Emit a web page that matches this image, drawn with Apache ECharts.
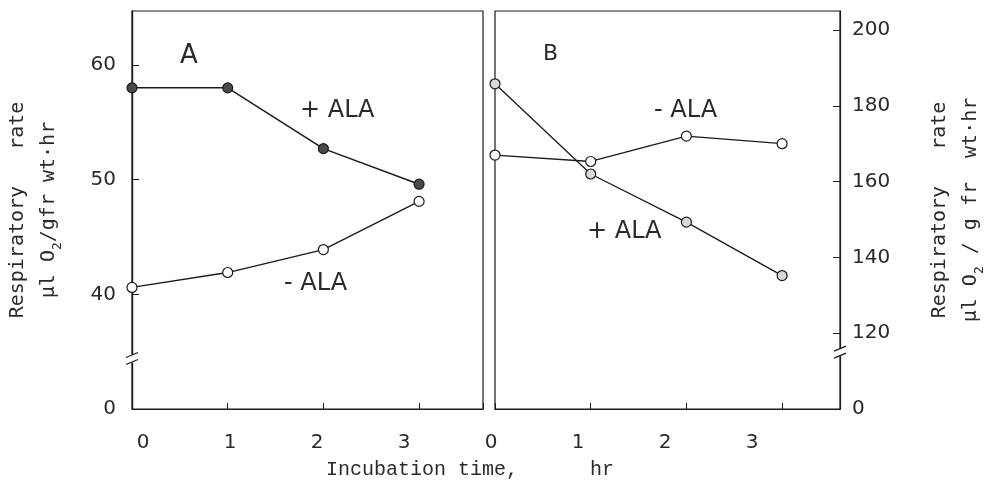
<!DOCTYPE html>
<html>
<head>
<meta charset="utf-8">
<script src="https://cdn.jsdelivr.net/npm/echarts@6/dist/echarts.min.js"></script>
<style>
html,body{margin:0;padding:0;background:#fff;}
#chart{width:989px;height:502px;}
</style>
</head>
<body>
<div id="chart"></div>
<script>
// ---- data ----
const hours = [0, 1, 2, 3];
const xTickLabels = ['0', '1', '2', '3'];
// Panel A (left axis, µl O2/g fr wt·hr)
const aPlusALA = [58, 58, 52.7, 49.6];
const aMinusALA = [40.6, 41.9, 43.9, 48.1];
// Panel B (right axis)
const bPlusALA = [185.8, 162, 149.3, 135.2];
const bMinusALA = [167, 165.3, 172, 170];
// axis tick values (bottom value shown as "0" after the axis break)
const leftTicks = [30, 40, 50, 60];
const rightTicks = [100, 120, 140, 160, 180, 200];

const ink = '#1a1a1a';
const txt = '#2a2a2a';
const monoFont = 'DejaVu Sans Mono';
const sansFont = 'DejaVu Sans';

function pairs(xs, ys) { return xs.map((x, i) => [x, ys[i]]); }

const chart = echarts.init(document.getElementById('chart'), null, {renderer: 'canvas'});

const gridA = {left: 132, top: 11, width: 351, height: 398, show: true, borderColor: ink, borderWidth: 1.2, backgroundColor: 'transparent', outerBoundsMode: 'none', containLabel: false};
const gridB = {left: 495, top: 11, width: 345, height: 398, show: true, borderColor: ink, borderWidth: 1.2, backgroundColor: 'transparent', outerBoundsMode: 'none', containLabel: false};
const gridL = {left: 143, top: 11, width: 609, height: 398, show: false, outerBoundsMode: 'none', containLabel: false};

const xCommon = {
  type: 'value', min: 0, interval: 1,
  axisLine: {show: true, onZero: false, lineStyle: {color: ink, width: 1.2}},
  axisTick: {show: true, inside: true, length: 6, lineStyle: {color: ink, width: 1}},
  axisLabel: {show: false},
  splitLine: {show: false}
};

const nameRich = {
  a: {fontFamily: monoFont, fontSize: 20, color: txt, lineHeight: 31},
  s: {fontFamily: monoFont, fontSize: 13, color: txt, lineHeight: 20, verticalAlign: 'bottom'}
};

const option = {
  animation: false,
  backgroundColor: '#fff',
  grid: [gridA, gridB, gridL],
  xAxis: [
    Object.assign({}, xCommon, {gridIndex: 0, max: 3.668}),
    Object.assign({}, xCommon, {gridIndex: 1, max: 3.605}),
    {
      type: 'value', gridIndex: 2, min: 0, max: 7, interval: 1,
      axisLine: {show: false, onZero: false}, axisTick: {show: false}, splitLine: {show: false},
      axisLabel: {
        show: true, margin: 24, fontFamily: sansFont, fontSize: 20, color: txt,
        formatter: v => xTickLabels[Math.round(v) % 4]
      }
    }
  ],
  yAxis: [
    {
      type: 'value', gridIndex: 0, position: 'left', min: leftTicks[0], max: 64.7, interval: 10,
      axisLine: {show: true, onZero: false, lineStyle: {color: ink, width: 1.4}},
      axisTick: {show: true, inside: true, length: 7, lineStyle: {color: ink, width: 1}},
      axisLabel: {
        show: true, margin: 16, fontFamily: sansFont, fontSize: 20, color: txt, showMaxLabel: false,
        formatter: v => (v === leftTicks[0] ? '0' : (leftTicks.indexOf(v) >= 0 ? String(v) : ''))
      },
      splitLine: {show: false},
      name: '{a|Respiratory   rate}\n{a|μl O}{s|2}{a|/gfr wt·hr}',
      nameLocation: 'middle', nameRotate: 90, nameGap: 68,
      nameTextStyle: {rich: nameRich, align: 'center'}
    },
    {
      type: 'value', gridIndex: 1, position: 'right', min: rightTicks[0], max: 205, interval: 20,
      axisLine: {show: true, onZero: false, lineStyle: {color: ink, width: 1.2}},
      axisTick: {show: true, inside: true, length: 7, lineStyle: {color: ink, width: 1}},
      axisLabel: {
        show: true, margin: 12, fontFamily: sansFont, fontSize: 20, color: txt, showMaxLabel: false,
        formatter: v => (v === rightTicks[0] ? '0' : (rightTicks.indexOf(v) >= 0 ? String(v) : ''))
      },
      splitLine: {show: false},
      name: '{a|Respiratory   rate}\n{a|μl O}{s|2}{a| / g fr  wt·hr}',
      nameLocation: 'middle', nameRotate: 90, nameGap: 84,
      nameTextStyle: {rich: nameRich, align: 'center'}
    },
    {type: 'value', gridIndex: 2, show: false, min: 0, max: 1}
  ],
  series: [
    {
      name: '+ALA (A)', type: 'line', xAxisIndex: 0, yAxisIndex: 0,
      data: pairs(hours, aPlusALA),
      symbol: 'circle', symbolSize: 10,
      lineStyle: {color: ink, width: 1.5},
      itemStyle: {color: '#4a4a4a', borderColor: ink, borderWidth: 1.2}
    },
    {
      name: '-ALA (A)', type: 'line', xAxisIndex: 0, yAxisIndex: 0,
      data: pairs(hours, aMinusALA),
      symbol: 'circle', symbolSize: 10,
      lineStyle: {color: ink, width: 1.3},
      itemStyle: {color: '#fff', borderColor: ink, borderWidth: 1.2}
    },
    {
      name: '+ALA (B)', type: 'line', xAxisIndex: 1, yAxisIndex: 1,
      data: pairs(hours, bPlusALA),
      symbol: 'circle', symbolSize: 10,
      lineStyle: {color: ink, width: 1.3},
      itemStyle: {color: '#d8d8d8', borderColor: ink, borderWidth: 1.2}
    },
    {
      name: '-ALA (B)', type: 'line', xAxisIndex: 1, yAxisIndex: 1,
      data: pairs(hours, bMinusALA),
      symbol: 'circle', symbolSize: 10,
      lineStyle: {color: ink, width: 1.3},
      itemStyle: {color: '#fff', borderColor: ink, borderWidth: 1.2}
    }
  ]
};

chart.setOption(option);

// ---- annotations and axis-break marks ----
function breakMark(axisIdx, xAxisIdx, xVal, yVal) {
  const px = chart.convertToPixel({xAxisIndex: xAxisIdx, yAxisIndex: axisIdx}, [xVal, yVal]);
  const x = px[0], y = px[1];
  return [
    {type: 'rect', shape: {x: x - 3, y: y - 4, width: 6, height: 8}, style: {fill: '#fff'}, z: 100},
    {type: 'line', shape: {x1: x - 6, y1: y - 1, x2: x + 6, y2: y - 6}, style: {stroke: ink, lineWidth: 1.2}, z: 101},
    {type: 'line', shape: {x1: x - 6, y1: y + 6, x2: x + 6, y2: y + 1}, style: {stroke: ink, lineWidth: 1.2}, z: 101}
  ];
}

const annFont = '24px "DejaVu Sans"';
const graphics = [].concat(
  breakMark(0, 0, 0, 34.4),
  breakMark(1, 1, 3.605, 115),
  [
    {type: 'text', left: 180, top: 43, style: {text: 'A', font: '26px "DejaVu Sans"', fill: txt}},
    {type: 'text', left: 300, top: 99, style: {text: '+ ALA', font: annFont, fill: txt}},
    {type: 'text', left: 284, top: 272, style: {text: '- ALA', font: annFont, fill: txt}},
    {type: 'text', left: 543, top: 43, style: {text: 'B', font: '22px "DejaVu Sans"', fill: txt}},
    {type: 'text', left: 654, top: 99, style: {text: '- ALA', font: annFont, fill: txt}},
    {type: 'text', left: 587, top: 220, style: {text: '+ ALA', font: annFont, fill: txt}},
    {type: 'text', left: 326, top: 460, style: {text: 'Incubation time,      hr', font: '20px "Liberation Mono"', fill: txt}}
  ]
);
chart.setOption({graphic: graphics});
</script>
</body>
</html>
